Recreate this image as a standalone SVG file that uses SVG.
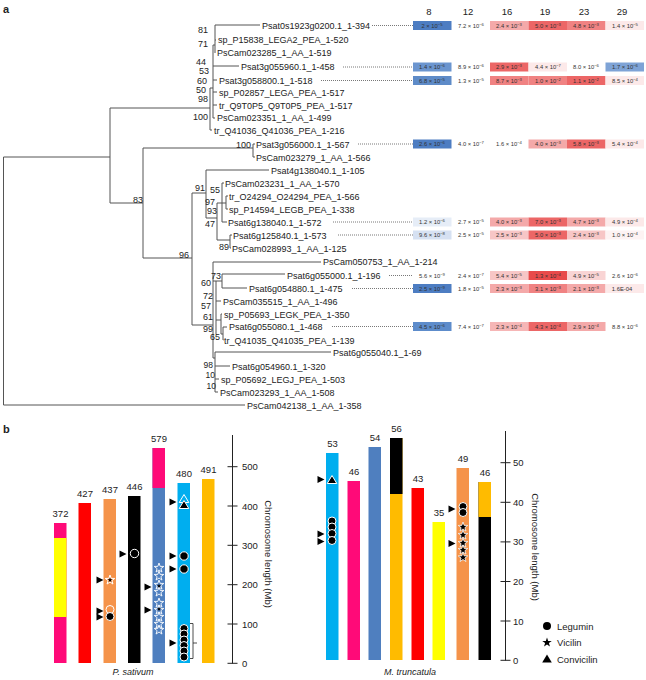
<svg xmlns="http://www.w3.org/2000/svg" xmlns:xlink="http://www.w3.org/1999/xlink" width="646" height="680" viewBox="0 0 646 680">
<style>
text{font-family:"Liberation Sans",Arial,sans-serif;fill:#222}
.lf{font-size:9px}
.bs{font-size:9px;text-anchor:end}
.hd{font-size:9.5px;text-anchor:middle}
.cv{font-size:5.8px;text-anchor:middle;fill:#333}
.sp{font-size:4.2px}
.tree{fill:none;stroke:#555;stroke-width:1}
.dot{fill:none;stroke:#555;stroke-width:0.8;stroke-dasharray:1 1}
.b1{fill:#4d7dc2}.b2{fill:#6b95cf}.b3{fill:#d6e1f2}.b4{fill:#e6edf7}
.r0{fill:#e84a4a}.r1{fill:#ec6666}.r2{fill:#f08282}.p1{fill:#f4a9a9}.p2{fill:#f7c6c6}.p3{fill:#fce9e9}
.bl{font-size:9.5px;text-anchor:middle}
.ax{fill:none;stroke:#222;stroke-width:1}
.tk{font-size:9.5px}
.pk{fill:#ff0a78}.ye{fill:#ffff00}.rd{fill:#ff0000}.or{fill:#f5934a}.bk{fill:#000}.bu{fill:#4f7fbf}.cy{fill:#00aeef}.am{fill:#ffbb00}
.mk{fill:#000;stroke:#fff;stroke-width:1}
.ar{fill:#000}
.lab{font-size:11px;font-weight:bold}
.it{font-size:9px;font-style:italic;text-anchor:middle}
</style>
<defs>
<path id="star" d="M0,-5 L1.18,-1.62 L4.76,-1.55 L1.9,0.62 L2.94,4.05 L0,2 L-2.94,4.05 L-1.9,0.62 L-4.76,-1.55 L-1.18,-1.62Z"/>
<path id="tri" d="M0,-4.5 L4.8,3.5 L-4.8,3.5Z"/>
<path id="arr" d="M-3.5,-3.5 L3.5,0 L-3.5,3.5Z"/>
</defs>

<text class="lab" x="3" y="13">a</text>
<text class="lab" x="3" y="433">b</text>

<!-- tree connectors -->
<g id="tree-edges" class="tree">
<path d="M3.5,157 V405 H245 M3.5,157 H110 M110,108 V203 M110,108 H210 M110,203 H143 M143,148 V258 M143,148 H253 M253,144 V157 M253,144 H255 M253,157 H255 M143,258 H192 M192,193 V325 M192,193 H206 M206,170 V218 M206,170 H269 M206,218 H217"/>
<path d="M217,203 V240 M217,203 H222 M222,183 V222 M222,183 H224 M222,222 H227 M222,203 H226 M226,196 V209 M226,196 H228 M226,209 H228 M217,240 H230 M230,235 V248 M230,235 H232 M230,248 H231"/>
<path d="M192,325 H213 M213,262 V358 M213,262 H321 M213,281 H216 M216,281 H222 M222,274 V288 M222,274 H285 M222,288 H247 M216,281 V334 M216,301 H221 M216,320 H221 M221,314 V334 M221,314 H222 M221,334 H223 M223,327 V340 M223,327 H227 M223,340 H223.5 M213,358 H215 M215,352 V392 M215,352 H331 M215,366 H230 M215,379 H219 M215,392 H218"/>
<path d="M210,88 V130 M210,130 H212 M210,88 H213 M213,45 V118 M213,118 H215 M213,105 H217 M213,92 H217 M213,80 H217 M213,66 H239 M213,45 H215 M215,25 V53 M215,25 H260 M215,40 H216"/>
</g>

<g id="leaders" class="dot">
<path d="M372,25.5 H413 M343,67 H413 M321,80.5 H413 M358,144 H413 M333,222 H413 M338,235 H413 M389,275.5 H413 M352,288.5 H413 M332,326.5 H413"/>
</g>

<!-- bootstrap values -->
<g id="bootstrap">
<text class="bs" x="208" y="33">81</text>
<text class="bs" x="208" y="47">71</text>
<text class="bs" x="206" y="65">44</text>
<text class="bs" x="209" y="74">53</text>
<text class="bs" x="207" y="84">60</text>
<text class="bs" x="206" y="93">50</text>
<text class="bs" x="208" y="102">98</text>
<text class="bs" x="208" y="120">100</text>
<text class="bs" x="251" y="148">100</text>
<text class="bs" x="143" y="203">83</text>
<text class="bs" x="189" y="258">96</text>
<text class="bs" x="205" y="191">91</text>
<text class="bs" x="220" y="193">55</text>
<text class="bs" x="215" y="205">97</text>
<text class="bs" x="217" y="214">93</text>
<text class="bs" x="215" y="227">47</text>
<text class="bs" x="229" y="250">89</text>
<text class="bs" x="221" y="279">73</text>
<text class="bs" x="211" y="286">60</text>
<text class="bs" x="213" y="299">72</text>
<text class="bs" x="211" y="309">57</text>
<text class="bs" x="213" y="320">61</text>
<text class="bs" x="213" y="332">99</text>
<text class="bs" x="220" y="340">65</text>
<text class="bs" x="213" y="368" style="font-size:8.5px">98</text>
<text class="bs" x="215" y="378" style="font-size:8.5px">10</text>
<text class="bs" x="216" y="389" style="font-size:8.5px">10</text>
</g>

<!-- leaves -->
<g id="leaf-1"><text class="lf" x="262" y="28.5">Psat0s1923g0200.1_1-394</text></g>
<g id="leaf-2"><text class="lf" x="218" y="43">sp_P15838_LEGA2_PEA_1-520</text></g>
<g id="leaf-3"><text class="lf" x="217" y="56">PsCam023285_1_AA_1-519</text></g>
<g id="leaf-4"><text class="lf" x="241" y="70">Psat3g055960.1_1-458</text></g>
<g id="leaf-5"><text class="lf" x="219" y="83.5">Psat3g058800.1_1-518</text></g>
<g id="leaf-6"><text class="lf" x="219" y="95.5">sp_P02857_LEGA_PEA_1-517</text></g>
<g id="leaf-7"><text class="lf" x="219" y="108.5">tr_Q9T0P5_Q9T0P5_PEA_1-517</text></g>
<g id="leaf-8"><text class="lf" x="217" y="121">PsCam023351_1_AA_1-499</text></g>
<g id="leaf-9"><text class="lf" x="214" y="133.5">tr_Q41036_Q41036_PEA_1-216</text></g>
<g id="leaf-10"><text class="lf" x="256" y="147.5">Psat3g056000.1_1-567</text></g>
<g id="leaf-11"><text class="lf" x="256" y="160.5">PsCam023279_1_AA_1-566</text></g>
<g id="leaf-12"><text class="lf" x="271" y="173.5">Psat4g138040.1_1-105</text></g>
<g id="leaf-13"><text class="lf" x="225" y="186.5">PsCam023231_1_AA_1-570</text></g>
<g id="leaf-14"><text class="lf" x="229" y="199.5">tr_O24294_O24294_PEA_1-566</text></g>
<g id="leaf-15"><text class="lf" x="229" y="212.5">sp_P14594_LEGB_PEA_1-338</text></g>
<g id="leaf-16"><text class="lf" x="228" y="225.5">Psat6g138040.1_1-572</text></g>
<g id="leaf-17"><text class="lf" x="233" y="238.5">Psat6g125840.1_1-573</text></g>
<g id="leaf-18"><text class="lf" x="232" y="251.5">PsCam028993_1_AA_1-125</text></g>
<g id="leaf-19"><text class="lf" x="323" y="265">PsCam050753_1_AA_1-214</text></g>
<g id="leaf-20"><text class="lf" x="287" y="278.5">Psat6g055000.1_1-196</text></g>
<g id="leaf-21"><text class="lf" x="249" y="291.5">Psat6g054880.1_1-475</text></g>
<g id="leaf-22"><text class="lf" x="223" y="304.5">PsCam035515_1_AA_1-496</text></g>
<g id="leaf-23"><text class="lf" x="224" y="317.5">sp_P05693_LEGK_PEA_1-350</text></g>
<g id="leaf-24"><text class="lf" x="229" y="330">Psat6g055080.1_1-468</text></g>
<g id="leaf-25"><text class="lf" x="224" y="343.5">tr_Q41035_Q41035_PEA_1-139</text></g>
<g id="leaf-26"><text class="lf" x="333" y="355.5">Psat6g055040.1_1-69</text></g>
<g id="leaf-27"><text class="lf" x="232" y="369.5">Psat6g054960.1_1-320</text></g>
<g id="leaf-28"><text class="lf" x="221" y="382.5">sp_P05692_LEGJ_PEA_1-503</text></g>
<g id="leaf-29"><text class="lf" x="220" y="395.5">PsCam023293_1_AA_1-508</text></g>
<g id="leaf-30"><text class="lf" x="247" y="408.5">PsCam042138_1_AA_1-358</text></g>

<!-- heatmap header -->
<g id="heat-header">
<text class="hd" x="429" y="15">8</text>
<text class="hd" x="468" y="15">12</text>
<text class="hd" x="507" y="15">16</text>
<text class="hd" x="545" y="15">19</text>
<text class="hd" x="584" y="15">23</text>
<text class="hd" x="622" y="15">29</text>
</g>

<g id="heat-row-1" transform="translate(0,25.5)">
<rect class="b1" x="413" y="-4.5" width="38.5" height="9"/><rect class="p1" x="490" y="-4.5" width="38.5" height="9"/><rect class="r1" x="528.5" y="-4.5" width="38.5" height="9"/><rect class="r2" x="567" y="-4.5" width="38.5" height="9"/><rect class="p3" x="605.5" y="-4.5" width="38.5" height="9"/>
<text class="cv" x="432" y="2">2 × 10<tspan class="sp" dy="-2">−5</tspan></text>
<text class="cv" x="471" y="2">7.2 × 10<tspan class="sp" dy="-2">−6</tspan></text>
<text class="cv" x="509" y="2">2.4 × 10<tspan class="sp" dy="-2">−3</tspan></text>
<text class="cv" x="548" y="2">5.0 × 10<tspan class="sp" dy="-2">−3</tspan></text>
<text class="cv" x="586" y="2">4.8 × 10<tspan class="sp" dy="-2">−3</tspan></text>
<text class="cv" x="625" y="2">1.4 × 10<tspan class="sp" dy="-2">−5</tspan></text>
</g>
<g id="heat-row-2" transform="translate(0,67)">
<rect class="b2" x="413" y="-4.5" width="38.5" height="9"/><rect class="r1" x="490" y="-4.5" width="38.5" height="9"/><rect class="p3" x="528.5" y="-4.5" width="38.5" height="9"/><rect class="b2" x="605.5" y="-4.5" width="38.5" height="9" style="fill:#7ea3d6"/>
<text class="cv" x="432" y="2">1.4 × 10<tspan class="sp" dy="-2">−6</tspan></text>
<text class="cv" x="471" y="2">8.9 × 10<tspan class="sp" dy="-2">−6</tspan></text>
<text class="cv" x="509" y="2">2.9 × 10<tspan class="sp" dy="-2">−3</tspan></text>
<text class="cv" x="548" y="2">4.4 × 10<tspan class="sp" dy="-2">−7</tspan></text>
<text class="cv" x="586" y="2">8.0 × 10<tspan class="sp" dy="-2">−6</tspan></text>
<text class="cv" x="625" y="2">1.7 × 10<tspan class="sp" dy="-2">−6</tspan></text>
</g>
<g id="heat-row-3" transform="translate(0,80.5)">
<rect class="b2" x="413" y="-4.5" width="38.5" height="9" style="fill:#5e8bc8"/><rect class="r2" x="490" y="-4.5" width="38.5" height="9"/><rect class="r2" x="528.5" y="-4.5" width="38.5" height="9"/><rect class="r1" x="567" y="-4.5" width="38.5" height="9"/><rect class="p3" x="605.5" y="-4.5" width="38.5" height="9"/>
<text class="cv" x="432" y="2">6.8 × 10<tspan class="sp" dy="-2">−5</tspan></text>
<text class="cv" x="471" y="2">1.3 × 10<tspan class="sp" dy="-2">−5</tspan></text>
<text class="cv" x="509" y="2">8.7 × 10<tspan class="sp" dy="-2">−3</tspan></text>
<text class="cv" x="548" y="2">1.0 × 10<tspan class="sp" dy="-2">−2</tspan></text>
<text class="cv" x="586" y="2">1.1 × 10<tspan class="sp" dy="-2">−2</tspan></text>
<text class="cv" x="625" y="2">8.5 × 10<tspan class="sp" dy="-2">−4</tspan></text>
</g>
<g id="heat-row-4" transform="translate(0,144)">
<rect class="b1" x="413" y="-4.5" width="38.5" height="9"/><rect class="p1" x="528.5" y="-4.5" width="38.5" height="9"/><rect class="r1" x="567" y="-4.5" width="38.5" height="9"/><rect class="p3" x="605.5" y="-4.5" width="38.5" height="9"/>
<text class="cv" x="432" y="2">2.6 × 10<tspan class="sp" dy="-2">−6</tspan></text>
<text class="cv" x="471" y="2">4.0 × 10<tspan class="sp" dy="-2">−7</tspan></text>
<text class="cv" x="509" y="2">1.6 × 10<tspan class="sp" dy="-2">−4</tspan></text>
<text class="cv" x="548" y="2">4.0 × 10<tspan class="sp" dy="-2">−3</tspan></text>
<text class="cv" x="586" y="2">5.8 × 10<tspan class="sp" dy="-2">−3</tspan></text>
<text class="cv" x="625" y="2">5.4 × 10<tspan class="sp" dy="-2">−4</tspan></text>
</g>
<g id="heat-row-5" transform="translate(0,222)">
<rect class="b4" x="413" y="-4.5" width="38.5" height="9"/><rect class="p1" x="490" y="-4.5" width="38.5" height="9"/><rect class="r1" x="528.5" y="-4.5" width="38.5" height="9"/><rect class="p1" x="567" y="-4.5" width="38.5" height="9"/><rect class="p3" x="605.5" y="-4.5" width="38.5" height="9"/>
<text class="cv" x="432" y="2">1.2 × 10<tspan class="sp" dy="-2">−6</tspan></text>
<text class="cv" x="471" y="2">2.7 × 10<tspan class="sp" dy="-2">−5</tspan></text>
<text class="cv" x="509" y="2">4.0 × 10<tspan class="sp" dy="-2">−3</tspan></text>
<text class="cv" x="548" y="2">7.0 × 10<tspan class="sp" dy="-2">−3</tspan></text>
<text class="cv" x="586" y="2">4.7 × 10<tspan class="sp" dy="-2">−3</tspan></text>
<text class="cv" x="625" y="2">4.9 × 10<tspan class="sp" dy="-2">−4</tspan></text>
</g>
<g id="heat-row-6" transform="translate(0,235)">
<rect class="b3" x="413" y="-4.5" width="38.5" height="9"/><rect class="p2" x="490" y="-4.5" width="38.5" height="9"/><rect class="r1" x="528.5" y="-4.5" width="38.5" height="9"/><rect class="p2" x="567" y="-4.5" width="38.5" height="9"/><rect class="p3" x="605.5" y="-4.5" width="38.5" height="9" style="fill:#fdf3f3"/>
<text class="cv" x="432" y="2">9.6 × 10<tspan class="sp" dy="-2">−8</tspan></text>
<text class="cv" x="471" y="2">2.5 × 10<tspan class="sp" dy="-2">−5</tspan></text>
<text class="cv" x="509" y="2">2.5 × 10<tspan class="sp" dy="-2">−3</tspan></text>
<text class="cv" x="548" y="2">5.0 × 10<tspan class="sp" dy="-2">−3</tspan></text>
<text class="cv" x="586" y="2">2.4 × 10<tspan class="sp" dy="-2">−3</tspan></text>
<text class="cv" x="625" y="2">1.0 × 10<tspan class="sp" dy="-2">−4</tspan></text>
</g>
<g id="heat-row-7" transform="translate(0,275.5)">
<rect class="p2" x="490" y="-4.5" width="38.5" height="9"/><rect class="r0" x="528.5" y="-4.5" width="38.5" height="9"/><rect class="p2" x="567" y="-4.5" width="38.5" height="9" style="fill:#f9d4d4"/>
<text class="cv" x="432" y="2">5.6 × 10<tspan class="sp" dy="-2">−9</tspan></text>
<text class="cv" x="471" y="2">2.4 × 10<tspan class="sp" dy="-2">−7</tspan></text>
<text class="cv" x="509" y="2">5.4 × 10<tspan class="sp" dy="-2">−5</tspan></text>
<text class="cv" x="548" y="2">1.3 × 10<tspan class="sp" dy="-2">−4</tspan></text>
<text class="cv" x="586" y="2">4.9 × 10<tspan class="sp" dy="-2">−5</tspan></text>
<text class="cv" x="625" y="2">2.6 × 10<tspan class="sp" dy="-2">−6</tspan></text>
</g>
<g id="heat-row-8" transform="translate(0,288.5)">
<rect class="b1" x="413" y="-4.5" width="38.5" height="9"/><rect class="p1" x="490" y="-4.5" width="38.5" height="9"/><rect class="r2" x="528.5" y="-4.5" width="38.5" height="9"/><rect class="p1" x="567" y="-4.5" width="38.5" height="9"/><rect class="p3" x="605.5" y="-4.5" width="38.5" height="9"/>
<text class="cv" x="432" y="2">2.5 × 10<tspan class="sp" dy="-2">−9</tspan></text>
<text class="cv" x="471" y="2">1.8 × 10<tspan class="sp" dy="-2">−5</tspan></text>
<text class="cv" x="509" y="2">2.3 × 10<tspan class="sp" dy="-2">−3</tspan></text>
<text class="cv" x="548" y="2">3.1 × 10<tspan class="sp" dy="-2">−3</tspan></text>
<text class="cv" x="586" y="2">2.1 × 10<tspan class="sp" dy="-2">−3</tspan></text>
<text class="cv" x="622" y="2">1.6E-04</text>
</g>
<g id="heat-row-9" transform="translate(0,326.5)">
<rect class="b1" x="413" y="-4.5" width="38.5" height="9" style="fill:#5d8ccb"/><rect class="p1" x="490" y="-4.5" width="38.5" height="9" style="fill:#f6b6b6"/><rect class="r1" x="528.5" y="-4.5" width="38.5" height="9"/><rect class="p1" x="567" y="-4.5" width="38.5" height="9"/>
<text class="cv" x="432" y="2">4.5 × 10<tspan class="sp" dy="-2">−6</tspan></text>
<text class="cv" x="471" y="2">7.4 × 10<tspan class="sp" dy="-2">−7</tspan></text>
<text class="cv" x="509" y="2">2.3 × 10<tspan class="sp" dy="-2">−4</tspan></text>
<text class="cv" x="548" y="2">4.3 × 10<tspan class="sp" dy="-2">−4</tspan></text>
<text class="cv" x="586" y="2">2.9 × 10<tspan class="sp" dy="-2">−4</tspan></text>
<text class="cv" x="625" y="2">8.8 × 10<tspan class="sp" dy="-2">−6</tspan></text>
</g>

<!-- part b: P. sativum -->
<g id="ps-chr1"><rect class="pk" x="54" y="523" width="12.5" height="140"/><rect class="ye" x="54" y="538" width="12.5" height="79"/><text class="bl" x="60.5" y="517">372</text></g>
<g id="ps-chr2"><rect class="rd" x="78.5" y="503" width="12.5" height="160"/><text class="bl" x="85" y="497">427</text></g>
<g id="ps-chr3"><rect class="or" x="103.5" y="499" width="12.5" height="164"/><text class="bl" x="110" y="493">437</text></g>
<g id="ps-chr4"><rect class="bk" x="128" y="496" width="12.5" height="167"/><text class="bl" x="134.5" y="490">446</text></g>
<g id="ps-chr5"><rect class="bu" x="152.5" y="448" width="12.5" height="215"/><rect class="pk" x="152.5" y="448" width="12.5" height="40"/><text class="bl" x="159" y="442">579</text></g>
<g id="ps-chr6"><rect class="cy" x="177.5" y="483" width="12.5" height="180"/><text class="bl" x="184" y="477">480</text></g>
<g id="ps-chr7"><rect class="am" x="202" y="479" width="12.5" height="184"/><text class="bl" x="208.5" y="473">491</text></g>

<g id="ps-markers">
<use href="#star" x="110" y="580" style="fill:#f5934a;stroke:#fff;stroke-width:1"/>
<use href="#star" transform="translate(110,580) scale(0.5)" class="ar"/>
<circle cx="110" cy="609.5" r="4" style="fill:#f5934a;stroke:#fff;stroke-width:1"/>
<circle class="mk" cx="110" cy="616.5" r="4"/>
<use href="#arr" x="100" y="580" class="ar"/>
<use href="#arr" x="100" y="611" class="ar"/>
<use href="#arr" x="100" y="617" class="ar"/>
<circle class="mk" cx="134.5" cy="553.5" r="4.2"/>
<use href="#arr" x="123" y="554" class="ar"/>
<g style="fill:#4f7fbf;stroke:#fff;stroke-width:0.9">
<use href="#star" x="159" y="568"/><use href="#star" x="159" y="576"/><use href="#star" x="159" y="585"/><use href="#star" x="159" y="592"/>
<use href="#star" x="159" y="603"/><use href="#star" x="159" y="610"/><use href="#star" x="159" y="617"/><use href="#star" x="159" y="624"/><use href="#star" x="159" y="630"/>
</g>
<use href="#star" transform="translate(159,586) scale(0.45)" class="ar"/>
<use href="#star" transform="translate(159,609) scale(0.45)" class="ar"/>
<use href="#arr" x="148" y="587" class="ar"/>
<use href="#arr" x="148" y="610" class="ar"/>
<use href="#tri" x="184" y="499" style="fill:#00aeef;stroke:#fff;stroke-width:1"/>
<use href="#tri" x="184" y="505" class="mk"/>
<use href="#arr" x="173" y="502" class="ar"/>
<circle class="mk" cx="184" cy="556" r="4.2"/>
<circle class="mk" cx="184" cy="569" r="4.2"/>
<use href="#arr" x="173" y="556" class="ar"/>
<use href="#arr" x="173" y="569" class="ar"/>
<circle class="mk" cx="184" cy="628.5" r="4"/><circle class="mk" cx="184" cy="634" r="4"/><circle class="mk" cx="184" cy="640" r="4"/><circle class="mk" cx="184" cy="645.5" r="4"/><circle class="mk" cx="184" cy="651" r="4"/><circle class="mk" cx="184" cy="657" r="4"/>
<use href="#arr" x="173" y="643" class="ar"/>
<path d="M190,623.5 H193 V658.5 H190 M193,643 H197" style="fill:none;stroke:#222;stroke-width:0.8"/>
</g>

<g id="ps-axis">
<path class="ax" d="M232.5,435 V663.5 M227.5,466.7 H237.5 M227.5,506 H237.5 M227.5,545.3 H237.5 M227.5,584.7 H237.5 M227.5,624 H237.5 M227.5,663.3 H237.5"/>
<text class="tk" x="242" y="470">500</text>
<text class="tk" x="242" y="509.5">400</text>
<text class="tk" x="242" y="549">300</text>
<text class="tk" x="242" y="588">200</text>
<text class="tk" x="242" y="627.5">100</text>
<text class="tk" x="242" y="667">0</text>
<text class="tk" transform="translate(265,554) rotate(90)" style="text-anchor:middle">Chromosome length (Mb)</text>
</g>
<text class="it" x="133" y="675">P. sativum</text>

<!-- part b: M. truncatula -->
<g id="mt-chr1"><rect class="cy" x="326" y="453" width="12.5" height="207"/><text class="bl" x="332.5" y="447">53</text></g>
<g id="mt-chr2"><rect class="pk" x="347.5" y="481" width="12.5" height="179"/><text class="bl" x="354" y="475">46</text></g>
<g id="mt-chr3"><rect class="bu" x="368.5" y="447" width="12.5" height="213"/><text class="bl" x="375" y="441">54</text></g>
<g id="mt-chr4"><rect class="am" x="390" y="438" width="12.5" height="222"/><rect class="bk" x="390" y="438" width="12.5" height="56"/><text class="bl" x="396.5" y="432">56</text></g>
<g id="mt-chr5"><rect class="rd" x="411.5" y="488" width="12.5" height="172"/><text class="bl" x="418" y="482">43</text></g>
<g id="mt-chr6"><rect class="ye" x="432.5" y="522" width="12.5" height="138"/><text class="bl" x="439" y="516">35</text></g>
<g id="mt-chr7"><rect class="or" x="456.5" y="468" width="12.5" height="192"/><text class="bl" x="463" y="462">49</text></g>
<g id="mt-chr8"><rect class="bk" x="478.5" y="482" width="12.5" height="178"/><rect class="am" x="478.5" y="482" width="12.5" height="35"/><text class="bl" x="485" y="476">46</text></g>

<g id="mt-markers">
<use href="#tri" x="332" y="480" class="mk"/>
<use href="#arr" x="321" y="479.5" class="ar"/>
<circle class="mk" cx="332" cy="521" r="4"/><circle class="mk" cx="332" cy="527" r="4"/><circle class="mk" cx="332" cy="533.5" r="4"/><circle class="mk" cx="332" cy="540.5" r="4"/>
<use href="#arr" x="321" y="534" class="ar"/>
<use href="#arr" x="321" y="541.5" class="ar"/>
<circle class="mk" cx="463" cy="506.5" r="4"/><circle class="mk" cx="463" cy="512.5" r="4"/>
<use href="#arr" x="452" y="509" class="ar"/>
<g class="mk" style="stroke-width:0.8">
<use href="#star" x="463" y="527"/><use href="#star" x="463" y="535"/><use href="#star" x="463" y="543"/><use href="#star" x="463" y="550"/><use href="#star" x="463" y="557.5"/>
</g>
<use href="#arr" x="452" y="543.5" class="ar"/>
</g>

<g id="mt-axis">
<path class="ax" d="M505.5,431 V660.5 M500.5,462.7 H510.5 M500.5,502.3 H510.5 M500.5,541.9 H510.5 M500.5,581.5 H510.5 M500.5,621 H510.5 M500.5,660.3 H510.5"/>
<text class="tk" x="513" y="466">50</text>
<text class="tk" x="513" y="505.5">40</text>
<text class="tk" x="513" y="545">30</text>
<text class="tk" x="513" y="585">20</text>
<text class="tk" x="513" y="624.5">10</text>
<text class="tk" x="513" y="664">0</text>
<text class="tk" transform="translate(532,547) rotate(90)" style="text-anchor:middle">Chromosome length (Mb)</text>
</g>
<text class="it" x="410" y="675">M. truncatula</text>

<g id="legend">
<circle cx="547" cy="626" r="4" class="ar"/>
<text class="tk" x="557" y="629.5">Legumin</text>
<use href="#star" x="547" y="642.5" class="ar"/>
<text class="tk" x="557" y="646">Vicilin</text>
<use href="#tri" x="547" y="659" class="ar"/>
<text class="tk" x="557" y="663">Convicilin</text>
</g>
</svg>
